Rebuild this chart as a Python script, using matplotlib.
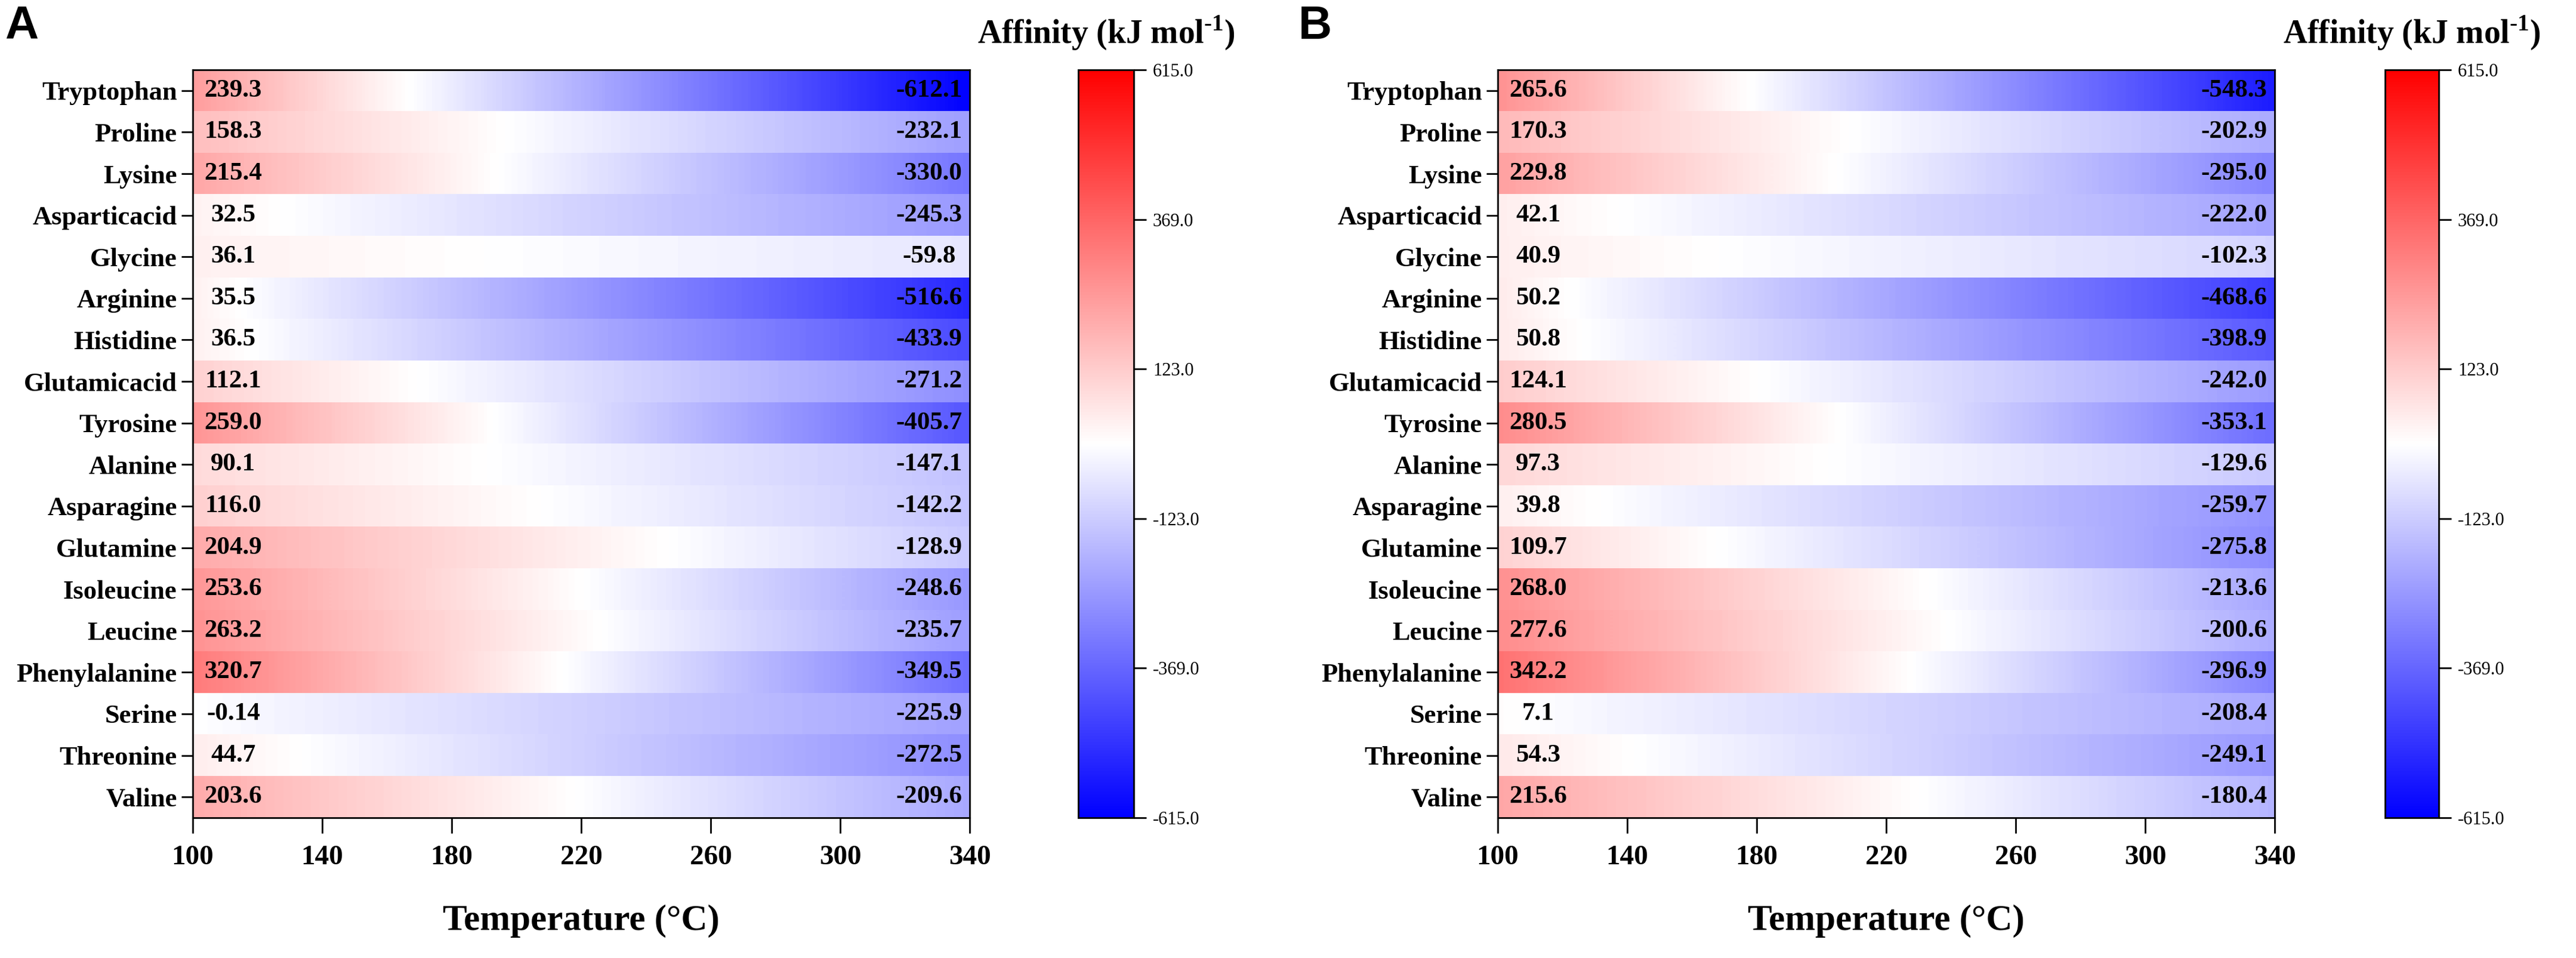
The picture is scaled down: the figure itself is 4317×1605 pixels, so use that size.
import numpy as np
import matplotlib
matplotlib.use('Agg')
import matplotlib.pyplot as plt

plt.rcParams['axes.unicode_minus'] = False
plt.rcParams['font.family'] = ['Liberation Serif', 'DejaVu Serif']
plt.rcParams['mathtext.fontset'] = 'custom'
plt.rcParams['mathtext.rm'] = 'Liberation Serif'
plt.rcParams['mathtext.bf'] = 'Liberation Serif:bold'

# amino acids, top to bottom
amino_acids = ['Tryptophan', 'Proline', 'Lysine', 'Asparticacid', 'Glycine', 'Arginine',
               'Histidine', 'Glutamicacid', 'Tyrosine', 'Alanine', 'Asparagine', 'Glutamine',
               'Isoleucine', 'Leucine', 'Phenylalanine', 'Serine', 'Threonine', 'Valine']

# temperature range (degC)
temps = [100, 340]
temp_ticks = [100, 140, 180, 220, 260, 300, 340]

# affinity at 100 degC and 340 degC (kJ/mol)
a_start = [239.3, 158.3, 215.4, 32.5, 36.1, 35.5, 36.5, 112.1, 259.0, 90.1, 116.0, 204.9,
           253.6, 263.2, 320.7, -0.14, 44.7, 203.6]
a_end = [-612.1, -232.1, -330.0, -245.3, -59.8, -516.6, -433.9, -271.2, -405.7, -147.1,
         -142.2, -128.9, -248.6, -235.7, -349.5, -225.9, -272.5, -209.6]
b_start = [265.6, 170.3, 229.8, 42.1, 40.9, 50.2, 50.8, 124.1, 280.5, 97.3, 39.8, 109.7,
           268.0, 277.6, 342.2, 7.1, 54.3, 215.6]
b_end = [-548.3, -202.9, -295.0, -222.0, -102.3, -468.6, -398.9, -242.0, -353.1, -129.6,
         -259.7, -275.8, -213.6, -200.6, -296.9, -208.4, -249.1, -180.4]

cbar_ticks = [-615.0, -369.0, -123.0, 123.0, 369.0, 615.0]
vlim = 615.0

fig = plt.figure(figsize=(43.17, 16.05), dpi=100)

W, H = 4317.0, 1605.0
ax_bottom = 1 - 1370 / H
ax_height = (1370 - 117) / H
ax_width = 1302 / W


def draw_panel(left, cb_left, cb_width, start, end, letter, letter_x):
    ax = fig.add_axes([left / W, ax_bottom, ax_width, ax_height])
    n = len(amino_acids)
    # pixel centres sit on the two temperatures so the gradient runs edge to edge
    half = (temps[1] - temps[0]) / 2.0
    im = None
    for i in range(n):
        row = np.array([[start[i], end[i]]])
        im = ax.imshow(row, cmap='bwr', vmin=-vlim, vmax=vlim, aspect='auto',
                       interpolation='bilinear', interpolation_stage='data',
                       extent=[temps[0] - half, temps[1] + half, i + 0.5, i - 0.5])
        ax.text(temps[0] + 12.5, i, str(start[i]), ha='center', va='center',
                fontsize=31, fontweight='bold')
        ax.text(temps[1] - 12.5, i, str(end[i]), ha='center', va='center',
                fontsize=31, fontweight='bold')
    ax.set_xlim(temps[0], temps[1])
    ax.set_ylim(n - 0.5, -0.5)
    ax.set_xticks(temp_ticks)
    ax.set_xticklabels([str(t) for t in temp_ticks], fontsize=34, fontweight='bold')
    ax.set_yticks(range(n))
    ax.set_yticklabels(amino_acids, fontsize=32, fontweight='bold')
    ax.tick_params(axis='x', length=19, width=2, pad=14)
    ax.tick_params(axis='y', length=14, width=2, pad=5)
    for sp in ax.spines.values():
        sp.set_linewidth(2)
    fig.text((left + 651) / W, 1 - 1543 / H, 'Temperature (\u00b0C)', ha='center',
             va='center', fontsize=44, fontweight='bold')

    cax = fig.add_axes([cb_left / W, ax_bottom, cb_width / W, ax_height])
    cb = fig.colorbar(im, cax=cax, ticks=cbar_ticks)
    cb.ax.set_yticklabels(['%.1f' % t for t in cbar_ticks], fontsize=22)
    cb.ax.tick_params(length=15, width=2, pad=8)
    cb.outline.set_linewidth(2)
    fig.text((cb_left + cb_width / 2) / W, 1 - 55 / H,
             r'Affinity (kJ mol$^{\mathbf{\text{-}1}}$)',
             ha='center', va='center', fontsize=40, fontweight='bold')

    fig.text(letter_x / W, 1 - 8 / H, letter, ha='left', va='top', fontsize=56,
             fontweight='bold', family='Liberation Sans')


draw_panel(323, 1807, 93, a_start, a_end, 'A', 8)
draw_panel(2510, 3997, 90, b_start, b_end, 'B', 2176)

fig.savefig('out.png', dpi=100)
